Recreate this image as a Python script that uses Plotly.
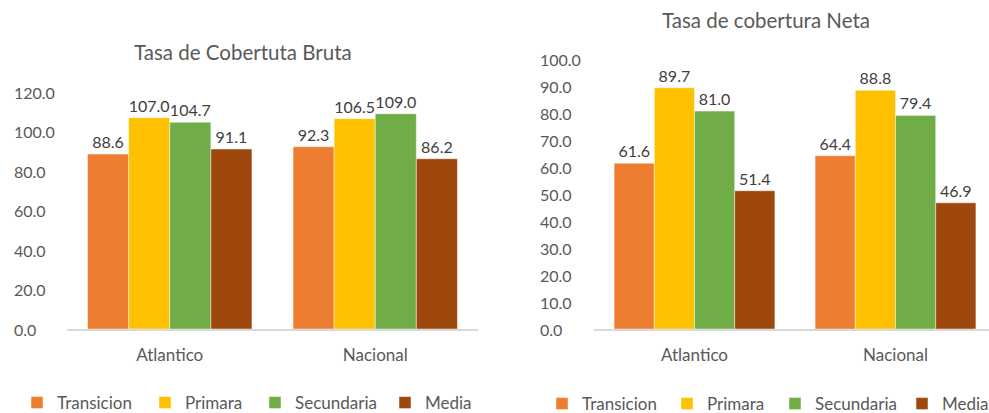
import plotly.graph_objects as go

categories = ["Atlantico", "Nacional"]
series_names = ["Transicion", "Primara", "Secundaria", "Media"]
colors = ["#ED7D31", "#FFC000", "#70AD47", "#9E480E"]

bruta_values = {
    "Transicion": [88.6, 92.3],
    "Primara": [107.0, 106.5],
    "Secundaria": [104.7, 109.0],
    "Media": [91.1, 86.2],
}
neta_values = {
    "Transicion": [61.6, 64.4],
    "Primara": [89.7, 88.8],
    "Secundaria": [81.0, 79.4],
    "Media": [51.4, 46.9],
}
bruta_ticks = [0, 20, 40, 60, 80, 100, 120]
neta_ticks = [0, 10, 20, 30, 40, 50, 60, 70, 80, 90, 100]
title_left = "Tasa de Cobertuta Bruta"
title_right = "Tasa de cobertura Neta"

W, H = 989, 413
FONT = "Lato"
TXT = "#595959"
LBL = "#404040"

# legend text start pixel positions for each entry
legend_left_px = [57, 185, 295, 425]
legend_right_px = [582, 707, 815, 942]

fig = go.Figure()

layout_legends = {}
for i, (name, col) in enumerate(zip(series_names, colors)):
    lk = f"legend{i + 2}"
    fig.add_trace(go.Bar(
        x=categories, y=bruta_values[name], name=name,
        marker=dict(color=col, line=dict(color="rgba(255,255,255,0.45)", width=1)),
        text=[f"{v:.1f}" for v in bruta_values[name]], textposition="outside",
        textfont=dict(family=FONT, size=16, color=LBL), cliponaxis=False,
        xaxis="x", yaxis="y", legend=lk, showlegend=True,
    ))
    layout_legends[lk] = dict(orientation="h", x=(legend_left_px[i] - 40) / W, xanchor="left",
                              y=(H - 403) / H, yanchor="middle",
                              font=dict(family=FONT, size=17, color=TXT),
                              bgcolor="rgba(0,0,0,0)", itemclick=False)
for i, (name, col) in enumerate(zip(series_names, colors)):
    lk = f"legend{i + 6}"
    fig.add_trace(go.Bar(
        x=categories, y=neta_values[name], name=name,
        marker=dict(color=col, line=dict(color="rgba(255,255,255,0.45)", width=1)),
        text=[f"{v:.1f}" for v in neta_values[name]], textposition="outside",
        textfont=dict(family=FONT, size=16, color=LBL), cliponaxis=False,
        xaxis="x2", yaxis="y2", legend=lk, showlegend=True,
    ))
    layout_legends[lk] = dict(orientation="h", x=(legend_right_px[i] - 40) / W, xanchor="left",
                              y=(H - 404) / H, yanchor="middle",
                              font=dict(family=FONT, size=17, color=TXT),
                              bgcolor="rgba(0,0,0,0)", itemclick=False)

y0 = (H - 329) / H
ytop_l = (H - 92) / H
ytop_r = (H - 60) / H

axis_common = dict(showgrid=False, zeroline=False, showline=True, linecolor="#D9D9D9",
                   linewidth=1.5, ticks="", tickfont=dict(family=FONT, size=17, color=TXT),
                   ticklabelstandoff=10, fixedrange=True)

fig.update_layout(
    width=W, height=H,
    showlegend=True,
    margin=dict(l=0, r=0, t=0, b=0, autoexpand=False),
    paper_bgcolor="white", plot_bgcolor="white",
    barmode="group", bargap=0.2, bargroupgap=0,
    font=dict(family=FONT, color=TXT),
    xaxis=dict(domain=[67 / W, 478 / W], range=[-0.5, 1.5], anchor="y", **axis_common),
    yaxis=dict(domain=[y0, ytop_l], range=[0, 120], showgrid=False, zeroline=False,
               showticklabels=False, anchor="x", fixedrange=True),
    xaxis2=dict(domain=[594 / W, 1.0], range=[-0.5, -0.5 + (W - 594) / 201.0], anchor="y2", **axis_common),
    yaxis2=dict(domain=[y0, ytop_r], range=[0, 100], showgrid=False, zeroline=False,
                showticklabels=False, anchor="x2", fixedrange=True),
    **layout_legends,
)

annotations = []
annotations.append(dict(text=title_left, x=242.5 / W, y=(H - 52) / H, xref="paper", yref="paper",
                        xanchor="center", yanchor="middle", showarrow=False,
                        font=dict(family=FONT, size=20.5, color=TXT)))
annotations.append(dict(text=title_right, x=766 / W, y=(H - 20) / H, xref="paper", yref="paper",
                        xanchor="center", yanchor="middle", showarrow=False,
                        font=dict(family=FONT, size=20.5, color=TXT)))
for v in bruta_ticks:
    annotations.append(dict(text=f"{v:.1f}", x=12 / W, xref="paper", y=v, yref="y",
                            xanchor="left", yanchor="middle", showarrow=False,
                            font=dict(family=FONT, size=16, color=TXT)))
for v in neta_ticks:
    annotations.append(dict(text=f"{v:.1f}", x=538 / W, xref="paper", y=v, yref="y2",
                            xanchor="left", yanchor="middle", showarrow=False,
                            font=dict(family=FONT, size=16, color=TXT)))
fig.update_layout(annotations=annotations)

fig.write_html("out.html", config={"displayModeBar": False},
               post_script="document.body.style.margin='0';document.body.style.overflow='hidden';")
